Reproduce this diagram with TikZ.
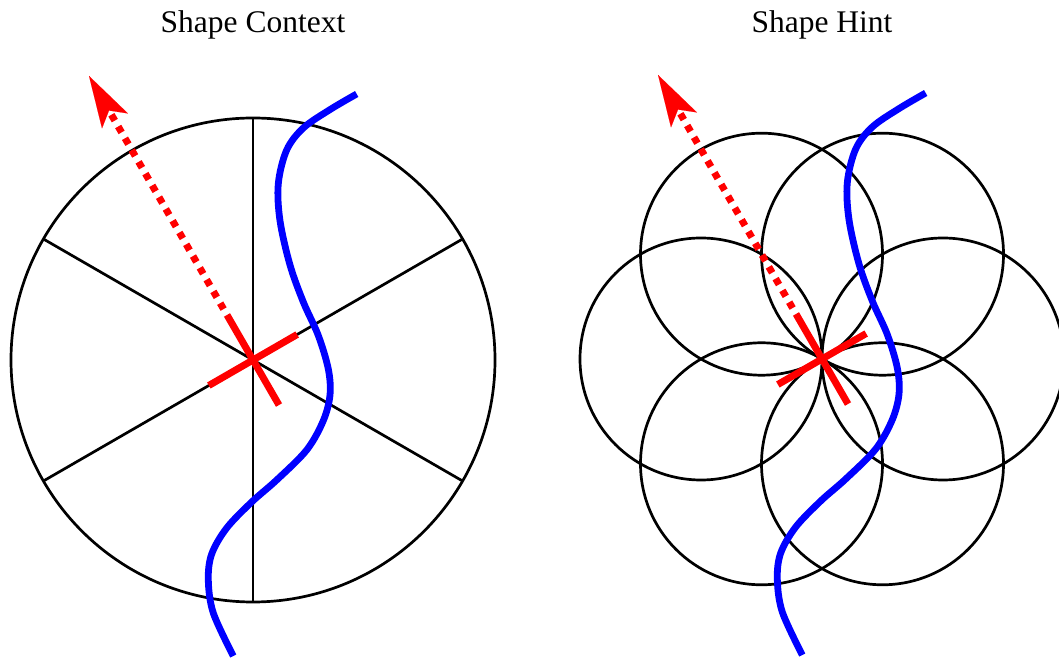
\documentclass[tikz,border=0pt]{standalone}
\usepackage{fontspec}
\setmainfont{Liberation Serif}
\usetikzlibrary{arrows.meta,calc}
\begin{document}
\begin{tikzpicture}[x=1pt,y=1pt,
  blackline/.style={line width=2.7pt,black},
  redline/.style={line width=7pt,red},
  reddots/.style={line width=7pt,red,dash pattern=on 6.8pt off 6.8pt,dash phase=6.8pt,
     -{Stealth[length=52pt,width=30pt,inset=12pt,line width=0.1pt]}},
  blueline/.style={line width=6.8pt,blue},
  title/.style={font=\fontsize{31.5}{37}\selectfont,anchor=base}]
\useasboundingbox (0,0) rectangle (1059,658);
\clip (0,0) rectangle (1059,658);
\coordinate (L) at (253,298);
\coordinate (R) at (822,299);
\node[title] (tl) at (253,625) {Shape Context};
\node[title] (tr) at (822,625) {Shape Hint};
% left: shape context
\draw[blackline] (L) circle[radius=242];
\foreach \a in {30,90,150,210,270,330}
  \draw[blackline] (L) -- ++(\a:242);
% right: shape hint
\foreach \a in {0,60,120,180,240,300}
  \draw[blackline] ($(R)+(\a:121)$) circle[radius=121];
% blue curves
\foreach \c in {L,R}{
  \draw[blueline] plot[smooth,tension=0.55] coordinates {
    ($(\c)+(103.7,266)$) ($(\c)+(77,250.4)$) ($(\c)+(50.3,232)$) ($(\c)+(33.7,210)$)
    ($(\c)+(25.3,176.3)$) ($(\c)+(27,139.3)$) ($(\c)+(37,95)$) ($(\c)+(50.3,58)$)
    ($(\c)+(65.3,24.5)$) ($(\c)+(75.3,-9)$) ($(\c)+(77,-35)$) ($(\c)+(70.3,-60.7)$)
    ($(\c)+(53.7,-90)$) ($(\c)+(23.7,-120)$) ($(\c)+(-1.3,-142)$) ($(\c)+(-26.3,-168)$)
    ($(\c)+(-41.3,-194)$) ($(\c)+(-44.7,-220)$) ($(\c)+(-39.7,-253)$) ($(\c)+(-19.7,-296)$)};
  \coordinate (\c a1) at ($(\c)+(210:51)$);
  \coordinate (\c a2) at ($(\c)+(30:51)$);
  \coordinate (\c b1) at ($(\c)+(300:52)$);
  \coordinate (\c b2) at ($(\c)+(120:52)$);
  \coordinate (\c tip) at ($(\c)+(120:328)$);
  \draw[redline] (\c a1) -- (\c a2);
  \draw[redline] (\c b1) -- (\c b2);
  \draw[reddots] (\c b2) -- (\c tip);
}
\end{tikzpicture}
\end{document}
